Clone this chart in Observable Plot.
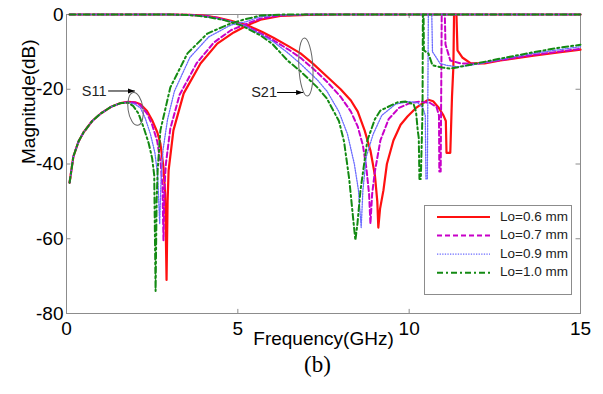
<!DOCTYPE html>
<html><head><meta charset="utf-8">
<script src="https://cdn.jsdelivr.net/npm/d3@7"></script>
<script src="https://cdn.jsdelivr.net/npm/@observablehq/plot@0.6"></script>
<style>
body{margin:0;background:#fff;font-family:"Liberation Sans",Arial,sans-serif;}
#wrap{position:relative;width:603px;height:394px;overflow:hidden;}
#cap{position:absolute;left:0;top:352px;width:603px;padding-left:32px;box-sizing:border-box;text-align:center;font-family:"Liberation Serif","Times New Roman",serif;font-size:23px;line-height:26px;color:#000;}
#legend{position:absolute;left:424px;top:205px;}
</style></head><body><div id="wrap"></div>
<script>
// ---- data ----
const freqTicks = [0, 5, 10, 15];
const magTicks = [-80, -60, -40, -20, 0];
const seriesNames = ["Lo=0.6 mm", "Lo=0.7 mm", "Lo=0.9 mm", "Lo=1.0 mm"];

// Lo = 0.6 mm
const s11_06 = [[0.09,-45],[0.2,-38],[0.35,-34],[0.5,-31.5],[0.75,-28.5],[1.0,-26.5],[1.3,-24.7],[1.58,-23.7],[1.8,-23.4],[2.0,-23.5],[2.16,-24],[2.35,-25.8],[2.5,-28.3],[2.65,-31.5],[2.74,-34.5],[2.83,-40.9],[2.88,-48],[2.92,-71],[2.95,-50],[2.98,-41.7],[3.12,-31],[3.42,-21.1],[3.91,-13.1],[4.4,-7.8],[4.88,-4.8],[5.28,-2.9],[5.66,-1.4],[6.24,-0.4],[7.0,-0.1],[8.0,0],[11.38,0],[11.41,-9.6],[11.55,-11.5],[11.8,-13.1],[12.2,-13.1],[12.66,-12.3],[13.63,-11],[14.3,-10.2],[15,-9.4]];
const s21_06 = [[0.09,0],[3.0,0],[3.6,-0.1],[4.0,-0.3],[4.4,-0.8],[4.8,-1.7],[5.28,-2.9],[5.7,-4.6],[6.04,-6.2],[6.5,-8.6],[6.83,-10.4],[7.2,-13.2],[7.6,-16.6],[8.0,-20],[8.3,-23],[8.5,-26],[8.7,-31],[8.87,-36.4],[9.0,-43],[9.07,-50],[9.1,-57],[9.15,-52],[9.25,-47],[9.35,-40],[9.54,-33.7],[9.75,-29.5],[9.95,-27.3],[10.2,-25],[10.42,-23.6],[10.56,-22.8],[10.7,-23.2],[10.85,-24.8],[11.0,-27],[11.07,-28.5],[11.09,-37],[11.2,-37],[11.25,-22],[11.29,-14],[11.31,0],[15,0]];

// Lo = 0.7 mm
const s11_07 = [[0.09,-45],[0.2,-38],[0.35,-34],[0.5,-31.5],[0.75,-28.5],[1.0,-26.5],[1.3,-24.7],[1.58,-23.7],[1.8,-23.4],[2.0,-23.6],[2.16,-24.3],[2.35,-26.5],[2.5,-29.5],[2.65,-34],[2.75,-40],[2.8,-46],[2.83,-60.4],[2.86,-46],[2.9,-40],[3.03,-30.5],[3.3,-21.5],[3.8,-13],[4.3,-7.5],[4.8,-4.2],[5.25,-2.5],[5.66,-1.1],[6.2,-0.3],[7.0,0],[11.04,0],[11.06,-8],[11.2,-12.3],[11.5,-13.1],[12.0,-13.2],[12.66,-12.2],[13.63,-10.8],[15,-9.2]];
const s21_07 = [[0.09,0],[3.0,0],[3.6,-0.1],[4.0,-0.35],[4.4,-0.9],[4.8,-1.9],[5.25,-3.1],[5.7,-5.2],[6.04,-6.9],[6.5,-9.5],[6.83,-11.6],[7.2,-14.5],[7.6,-18],[8.0,-22],[8.3,-26],[8.5,-30],[8.65,-35],[8.75,-41],[8.83,-48],[8.87,-56],[8.92,-48],[9.0,-42],[9.16,-33.7],[9.4,-28],[9.7,-25],[10.0,-23.8],[10.3,-23.3],[10.6,-23.6],[10.8,-24.8],[10.87,-27],[10.88,-42],[10.92,-42],[10.95,0],[15,0]];

// Lo = 0.9 mm
const s11_09 = [[0.09,-45],[0.2,-38],[0.35,-34],[0.5,-31.5],[0.75,-28.5],[1.0,-26.5],[1.3,-24.7],[1.58,-23.7],[1.8,-23.5],[2.0,-24],[2.16,-25],[2.3,-27.8],[2.45,-32],[2.58,-37],[2.66,-43],[2.72,-56],[2.76,-44],[2.82,-36],[2.95,-28],[3.15,-20.5],[3.6,-11.5],[4.15,-6],[4.8,-2.8],[5.25,-1.9],[5.66,-0.6],[6.2,-0.1],[7.0,0],[10.66,0],[10.68,-10],[10.72,-10.5],[10.9,-13.1],[11.1,-13.6],[11.4,-14],[11.8,-13.6],[12.66,-12],[13.63,-10.4],[15,-8.6]];
const s21_09 = [[0.09,0],[3.0,0],[3.5,-0.1],[3.9,-0.35],[4.3,-0.9],[4.8,-1.9],[5.2,-3],[5.66,-5.3],[6.04,-7.3],[6.45,-10.2],[6.83,-13.2],[7.32,-17.5],[7.6,-20.5],[7.95,-26],[8.2,-32],[8.4,-40],[8.52,-47],[8.6,-57],[8.65,-47],[8.75,-38],[8.95,-32],[9.2,-27],[9.6,-24],[10.0,-23.3],[10.25,-23.6],[10.4,-25],[10.47,-27],[10.49,-44],[10.53,-44],[10.56,0],[15,0]];

// Lo = 1.0 mm
const s11_10 = [[0.09,-45],[0.2,-38],[0.35,-34],[0.5,-31.5],[0.75,-28.5],[1.0,-26.5],[1.3,-24.7],[1.58,-23.7],[1.8,-23.6],[1.95,-24.5],[2.1,-26.5],[2.25,-30.2],[2.4,-34.5],[2.5,-38.5],[2.56,-43],[2.6,-74],[2.63,-50],[2.66,-41.7],[2.74,-31],[3.03,-19.5],[3.53,-10.4],[4.11,-5.1],[4.79,-2.4],[5.2,-1.3],[5.66,-0.3],[6.2,-0.05],[6.5,0],[10.42,0],[10.43,-9.6],[10.56,-10.4],[10.68,-13.6],[10.97,-14.2],[11.2,-14.5],[11.7,-13.6],[12.66,-11.8],[13.63,-10.1],[14.3,-9],[15,-8.1]];
const s21_10 = [[0.09,0],[3.0,0],[3.4,-0.1],[3.8,-0.3],[4.2,-0.8],[4.6,-1.5],[5.1,-2.9],[5.66,-5.6],[6.0,-7.8],[6.45,-12.3],[6.83,-15.2],[7.32,-19.5],[7.6,-22.5],[7.95,-28.5],[8.1,-34],[8.25,-44],[8.37,-55],[8.43,-60.4],[8.49,-56],[8.58,-47],[8.78,-33.7],[9.0,-28],[9.16,-25.7],[9.66,-23.5],[9.9,-23.3],[10.13,-24],[10.2,-26],[10.25,-31],[10.28,-33],[10.3,-44],[10.34,-44],[10.39,-25.7],[10.4,0],[15,0]];

// annotation anchors (data units)
const annotations = [
  {label: "S11", x: 0.82, y: -20.9, ax1: 1.23, ax2: 2.01, ay: -20.6, ex: 2.03, ey: -25.4},
  {label: "S21", x: 5.78, y: -21.1, ax1: 6.16, ax2: 6.92, ay: -21.0, ex: 7.0, ey: -14.2}
];

// ---- styles ----
const styles = [
  {stroke: "#ff1010", strokeWidth: 2.2, dash: null},
  {stroke: "#c800c8", strokeWidth: 2, dash: "5,3"},
  {stroke: "#6a6aff", strokeWidth: 1.3, dash: "1.3,1.3"},
  {stroke: "#138a13", strokeWidth: 2, dash: "6,3,2,3"}
];
const seriesData = [[s11_06, s21_06], [s11_07, s21_07], [s11_09, s21_09], [s11_10, s21_10]];
const grey = "#8c8c8c";

const lineMarks = [];
seriesData.forEach((pair, i) => {
  const st = styles[i];
  pair.forEach(arr => lineMarks.push(Plot.line(arr, {
    x: d => d[0], y: d => d[1], stroke: st.stroke, strokeWidth: st.strokeWidth,
    strokeDasharray: st.dash, strokeLinejoin: "round"
  })));
});

const chart = Plot.plot({
  width: 603, height: 362,
  marginLeft: 66, marginRight: 23, marginTop: 14, marginBottom: 49,
  style: {fontFamily: "'Liberation Sans', Arial, sans-serif", background: "#fff", color: "#000", overflow: "visible"},
  x: {domain: [0, 15]},
  y: {domain: [-80, 0]},
  marks: [
    Plot.ruleY(magTicks, {x1: 0, x2: 0.13, stroke: grey}),
    Plot.ruleY(magTicks, {x1: 14.87, x2: 15, stroke: grey}),
    Plot.ruleX(freqTicks, {y1: -80, y2: -78.9, stroke: grey}),
    Plot.ruleX(freqTicks, {y1: 0, y2: -1.1, stroke: grey}),
    Plot.frame({stroke: grey}),
    Plot.axisX(freqTicks, {tickSize: 0, tickPadding: 8, fontSize: 19, label: null, tickFormat: d => String(d)}),
    Plot.axisY(magTicks, {tickSize: 0, tickPadding: 3, fontSize: 19, label: null, tickFormat: d => String(d)}),
    ...lineMarks,
    Plot.text(["Frequency(GHz)"], {frameAnchor: "bottom", dy: 31, fontSize: 19, fill: "#000"}),
    Plot.text(["Magnitude(dB)"], {frameAnchor: "left", dx: -38, rotate: -90, fontSize: 19, fill: "#000"})
  ]
});

// annotations drawn through the chart's scales
const sx = chart.scale("x"), sy = chart.scale("y");
const svg = d3.select(chart);
svg.append("defs").append("marker")
  .attr("id", "ah").attr("viewBox", "0 0 10 10").attr("refX", 10).attr("refY", 5)
  .attr("markerWidth", 7).attr("markerHeight", 7).attr("orient", "auto")
  .append("path").attr("d", "M0,1.5L10,5L0,8.5Z").attr("fill", "#000");
const ellipseSize = [{rx: 7.5, ry: 16.5, rot: -8}, {rx: 7, ry: 29, rot: -3}];
const ag = svg.append("g");
annotations.forEach((a, i) => {
  ag.append("text").attr("x", sx.apply(a.x)).attr("y", sy.apply(a.y))
    .attr("text-anchor", "middle").attr("dominant-baseline", "middle")
    .attr("font-size", 14.5).attr("fill", "#222").text(a.label);
  ag.append("line").attr("x1", sx.apply(a.ax1)).attr("x2", sx.apply(a.ax2))
    .attr("y1", sy.apply(a.ay)).attr("y2", sy.apply(a.ay))
    .attr("stroke", "#000").attr("stroke-width", 1).attr("marker-end", "url(#ah)");
  const cx = sx.apply(a.ex), cy = sy.apply(a.ey), e = ellipseSize[i];
  ag.append("ellipse").attr("cx", cx).attr("cy", cy).attr("rx", e.rx).attr("ry", e.ry)
    .attr("transform", `rotate(${e.rot},${cx},${cy})`)
    .attr("fill", "none").attr("stroke", "#666").attr("stroke-width", 1);
});

const wrap = document.getElementById("wrap");
wrap.appendChild(chart);

// legend
const lw = 147, lh = 89;
const leg = d3.create("svg").attr("id", "legend").attr("width", lw + 1).attr("height", lh + 1);
leg.append("rect").attr("x", 0.5).attr("y", 0.5).attr("width", lw).attr("height", lh)
  .attr("fill", "#fff").attr("stroke", grey);
seriesNames.forEach((name, i) => {
  const yy = 12 + i * 18.6, st = styles[i];
  leg.append("line").attr("x1", 13).attr("x2", 66).attr("y1", yy).attr("y2", yy)
    .attr("stroke", st.stroke).attr("stroke-width", st.strokeWidth)
    .attr("stroke-dasharray", st.dash);
  leg.append("text").attr("x", 76).attr("y", yy).attr("dominant-baseline", "middle")
    .attr("font-size", 13.5).attr("font-family", "'Liberation Sans', Arial, sans-serif")
    .attr("fill", "#222").text(name);
});
wrap.appendChild(leg.node());

const cap = document.createElement("div");
cap.id = "cap"; cap.textContent = "(b)";
wrap.appendChild(cap);
</script></body></html>
